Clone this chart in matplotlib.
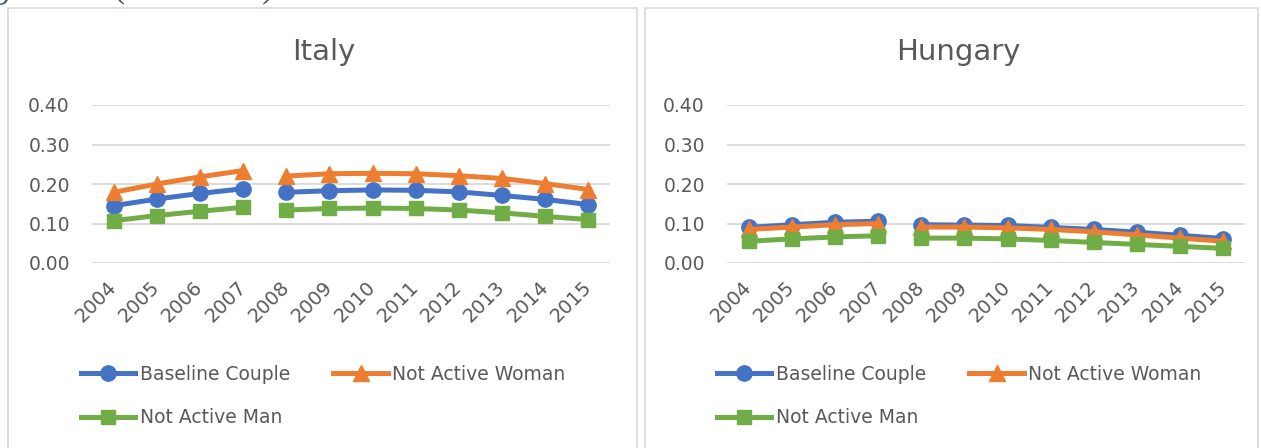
import numpy as np
import matplotlib.pyplot as plt
from matplotlib.patches import Rectangle

# data
years = [2004, 2005, 2006, 2007, 2008, 2009, 2010, 2011, 2012, 2013, 2014, 2015]
series_names = ["Baseline Couple", "Not Active Woman", "Not Active Man"]

italy_baseline = [0.145, 0.162, 0.176, 0.188, 0.179, 0.183, 0.185, 0.184, 0.180, 0.171, 0.161, 0.148]
italy_woman = [0.179, 0.200, 0.218, 0.234, 0.220, 0.226, 0.227, 0.226, 0.221, 0.214, 0.201, 0.186]
italy_man = [0.107, 0.120, 0.131, 0.141, 0.134, 0.138, 0.139, 0.138, 0.134, 0.127, 0.118, 0.110]

hungary_baseline = [0.090, 0.097, 0.103, 0.106, 0.097, 0.096, 0.095, 0.090, 0.085, 0.078, 0.070, 0.062]
hungary_woman = [0.085, 0.091, 0.097, 0.100, 0.091, 0.091, 0.089, 0.085, 0.079, 0.071, 0.063, 0.055]
hungary_man = [0.055, 0.061, 0.066, 0.069, 0.063, 0.063, 0.061, 0.057, 0.052, 0.047, 0.042, 0.037]

yticks = [0.0, 0.1, 0.2, 0.3, 0.4]
break_after = 2007  # the lines are not joined between 2007 and 2008

colors = ["#4472C4", "#ED7D31", "#70AD47"]
markers = ["o", "^", "s"]
msizes = [11, 11, 10]
txt = "#595959"
grid = "#D9D9D9"

plt.rcParams['font.family'] = ['DejaVu Sans']

W, H = 1261, 448
fig = plt.figure(figsize=(W / 100, H / 100), dpi=100)


def px(x0, y0, w, h):
    return [x0 / W, 1 - (y0 + h) / H, w / W, h / H]


# chart borders
for x0, x1 in [(8, 637), (645, 1258)]:
    fig.patches.append(Rectangle((x0 / W, -0.1), (x1 - x0) / W, 1.1 - 8 / H,
                                 transform=fig.transFigure, fill=False,
                                 edgecolor=grid, lw=1.2))

# caption cut off at the top (as in the source page)
fig.text(-38 / W, 1 + 3 / H, "Figure 5.4 (continued)", family="Liberation Serif",
         fontsize=25, color="#44546A", va="baseline", ha="left")

panels = [
    ("Italy", [italy_baseline, italy_woman, italy_man], 92, 324, 81),
    ("Hungary", [hungary_baseline, hungary_woman, hungary_man], 727, 958, 717),
]

x = np.arange(len(years))
cut = years.index(break_after) + 1

for title, data, left, tcenter, legx in panels:
    ax = fig.add_axes(px(left, 105, 518, 158))
    for vals, name, c, m, ms in zip(data, series_names, colors, markers, msizes):
        v = np.array(vals)
        ax.plot(x[:cut], v[:cut], color=c, marker=m, ms=ms, lw=3.6, label=name)
        ax.plot(x[cut:], v[cut:], color=c, marker=m, ms=ms, lw=3.6)
    ax.set_xlim(-0.5, len(years) - 0.5)
    ax.set_ylim(0, 0.4)
    ax.set_yticks(yticks)
    ax.set_yticklabels([f"{t:.2f}" for t in yticks])
    ax.set_xticks(x)
    ax.set_xticklabels([str(y) for y in years], rotation=45, ha="right",
                       rotation_mode="anchor", va="center")
    ax.tick_params(axis="both", length=0, labelsize=13.5, colors=txt)
    ax.tick_params(axis="x", labelsize=14, pad=15)
    ax.tick_params(axis="y", pad=16)
    ax.grid(axis="y", color=grid, lw=1.3)
    ax.set_axisbelow(True)
    for s in ax.spines.values():
        s.set_visible(False)
    fig.text(tcenter / W, 1 - 52 / H, title, fontsize=21, color=txt,
             ha="center", va="center")
    handles, labels = ax.get_legend_handles_labels()
    # row-wise order: Baseline, Woman / Man
    order = [0, 2, 1]
    leg = fig.legend([handles[i] for i in order], [labels[i] for i in order],
                     loc="upper left", ncol=2,
                     bbox_to_anchor=(legx / W, 1 - 365 / H), frameon=False,
                     fontsize=13.5, handlelength=2.9, handletextpad=0.25,
                     columnspacing=2.3, labelspacing=1.3, borderpad=0,
                     borderaxespad=0)
    for t in leg.get_texts():
        t.set_color(txt)

fig.savefig("out.png", dpi=100)
